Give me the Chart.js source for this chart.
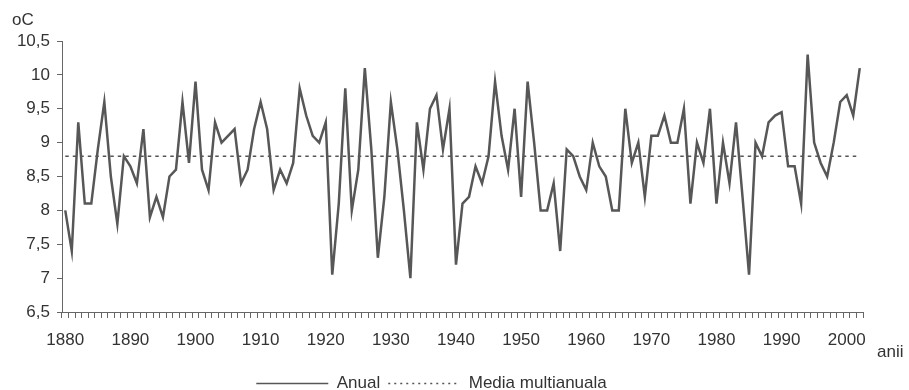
<!DOCTYPE html>
<html>
<head>
<meta charset="utf-8">
<script src="https://cdn.jsdelivr.net/npm/chart.js@4.4.1/dist/chart.umd.min.js"></script>
<style>
  html, body { margin: 0; padding: 0; background: #fff; }
  #wrap { width: 909px; height: 390px; position: relative; }
</style>
</head>
<body>
<div id="wrap"><canvas id="tempChart"></canvas></div>
<script>
// ani 1880 - 2002
const years = [];
for (let y = 1880; y <= 2002; y++) years.push(y);

// temperatura medie anuala (oC)
const anual = [
    8.0, 7.4, 9.3, 8.1, 8.1, 8.9, 9.6, 8.5, 7.8, 8.8,
    8.65, 8.4, 9.2, 7.9, 8.2, 7.9, 8.5, 8.6, 9.6, 8.7,
    9.9, 8.6, 8.3, 9.3, 9.0, 9.1, 9.2, 8.4, 8.6, 9.2,
    9.6, 9.2, 8.3, 8.6, 8.4, 8.7, 9.8, 9.4, 9.1, 9.0,
    9.3, 7.05, 8.1, 9.8, 8.0, 8.6, 10.1, 8.9, 7.3, 8.2,
    9.6, 8.9, 8.0, 7.0, 9.3, 8.6, 9.5, 9.7, 8.9, 9.5,
    7.2, 8.1, 8.2, 8.65, 8.4, 8.8, 9.9, 9.1, 8.6, 9.5,
    8.2, 9.9, 9.0, 8.0, 8.0, 8.4, 7.4, 8.9, 8.8, 8.5,
    8.3, 9.0, 8.65, 8.5, 8.0, 8.0, 9.5, 8.7, 9.0, 8.2,
    9.1, 9.1, 9.4, 9.0, 9.0, 9.5, 8.1, 9.0, 8.7, 9.5,
    8.1, 9.0, 8.4, 9.3, 8.2, 7.05, 9.0, 8.8, 9.3, 9.4,
    9.45, 8.65, 8.65, 8.1, 10.3, 9.0, 8.7, 8.5, 9.0, 9.6,
    9.7, 9.4, 10.1
];

const mediaMultianuala = 8.8;

const xLabelYears = [1880, 1890, 1900, 1910, 1920, 1930, 1940, 1950, 1960, 1970, 1980, 1990, 2000];
const yTickValues = [6.5, 7, 7.5, 8, 8.5, 9, 9.5, 10, 10.5];
const yTickLabels = ['6,5', '7', '7,5', '8', '8,5', '9', '9,5', '10', '10,5'];

const textColor = '#333';
const axisColor = '#666';
const fontFamily = 'Arial, "Liberation Sans", sans-serif';

// textele "oC" si "anii"
const axisNotes = {
    id: 'axisNotes',
    afterDraw(chart) {
        const ctx = chart.ctx;
        const xs = chart.scales.x;
        ctx.save();
        ctx.fillStyle = textColor;
        ctx.font = '17px ' + fontFamily;
        ctx.textAlign = 'left';
        ctx.textBaseline = 'middle';
        ctx.fillText('oC', 12, 20);
        ctx.textBaseline = 'alphabetic';
        ctx.fillText('anii', xs.right + 14, xs.top + 45);
        ctx.restore();
    }
};

const ctx = document.getElementById('tempChart');

new Chart(ctx, {
    type: 'line',
    data: {
        labels: years,
        datasets: [{
            label: 'Anual',
            data: anual,
            borderColor: '#575757',
            backgroundColor: '#575757',
            borderWidth: 2.5,
            pointRadius: 0,
            tension: 0,
        }, {
            label: 'Media multianuala',
            data: years.map(() => mediaMultianuala),
            borderColor: '#555',
            backgroundColor: '#555',
            borderWidth: 1.5,
            borderDash: [3.5, 4],
            pointRadius: 0,
            tension: 0,
        }],
    },
    options: {
        responsive: true,
        maintainAspectRatio: false,
        animation: false,
        layout: {
            padding: { top: 41, right: 46, bottom: -12, left: 0 }
        },
        plugins: {
            title: { display: false },
            tooltip: { enabled: false },
            legend: {
                display: true,
                position: 'bottom',
                labels: {
                    color: textColor,
                    font: { size: 17, family: fontFamily },
                    usePointStyle: true,
                    pointStyle: 'line',
                    pointStyleWidth: 72,
                    padding: 8,
                    generateLabels: (chart) => Chart.defaults.plugins.legend.labels.generateLabels(chart)
                        .map((l, i) => ({ ...l, lineWidth: 1.3, lineDash: i === 1 ? [2, 4] : [] }))
                }
            },
        },
        scales: {
            x: {
                type: 'category',
                offset: true,
                afterFit: (scale) => { scale.height = 55; },
                grid: {
                    display: true,
                    offset: true,
                    drawOnChartArea: false,
                    drawTicks: true,
                    tickLength: 6,
                    color: axisColor,
                },
                border: { display: true, color: axisColor, width: 1 },
                ticks: {
                    autoSkip: false,
                    maxRotation: 0,
                    minRotation: 0,
                    padding: 12,
                    color: textColor,
                    font: { size: 17, family: fontFamily },
                    callback: (val, i) => xLabelYears.includes(years[i]) ? String(years[i]) : ''
                }
            },
            y: {
                min: 6.5,
                max: 10.5,
                afterFit: (scale) => { scale.width = 62; },
                afterBuildTicks: (scale) => { scale.ticks = yTickValues.map(v => ({ value: v })); },
                grid: {
                    display: true,
                    drawOnChartArea: false,
                    drawTicks: true,
                    tickLength: 5,
                    color: axisColor,
                },
                border: { display: true, color: axisColor, width: 1 },
                ticks: {
                    padding: 7,
                    color: textColor,
                    font: { size: 17, family: fontFamily },
                    callback: (val) => yTickLabels[yTickValues.indexOf(val)]
                }
            }
        },
    },
    plugins: [axisNotes]
});
</script>
</body>
</html>
